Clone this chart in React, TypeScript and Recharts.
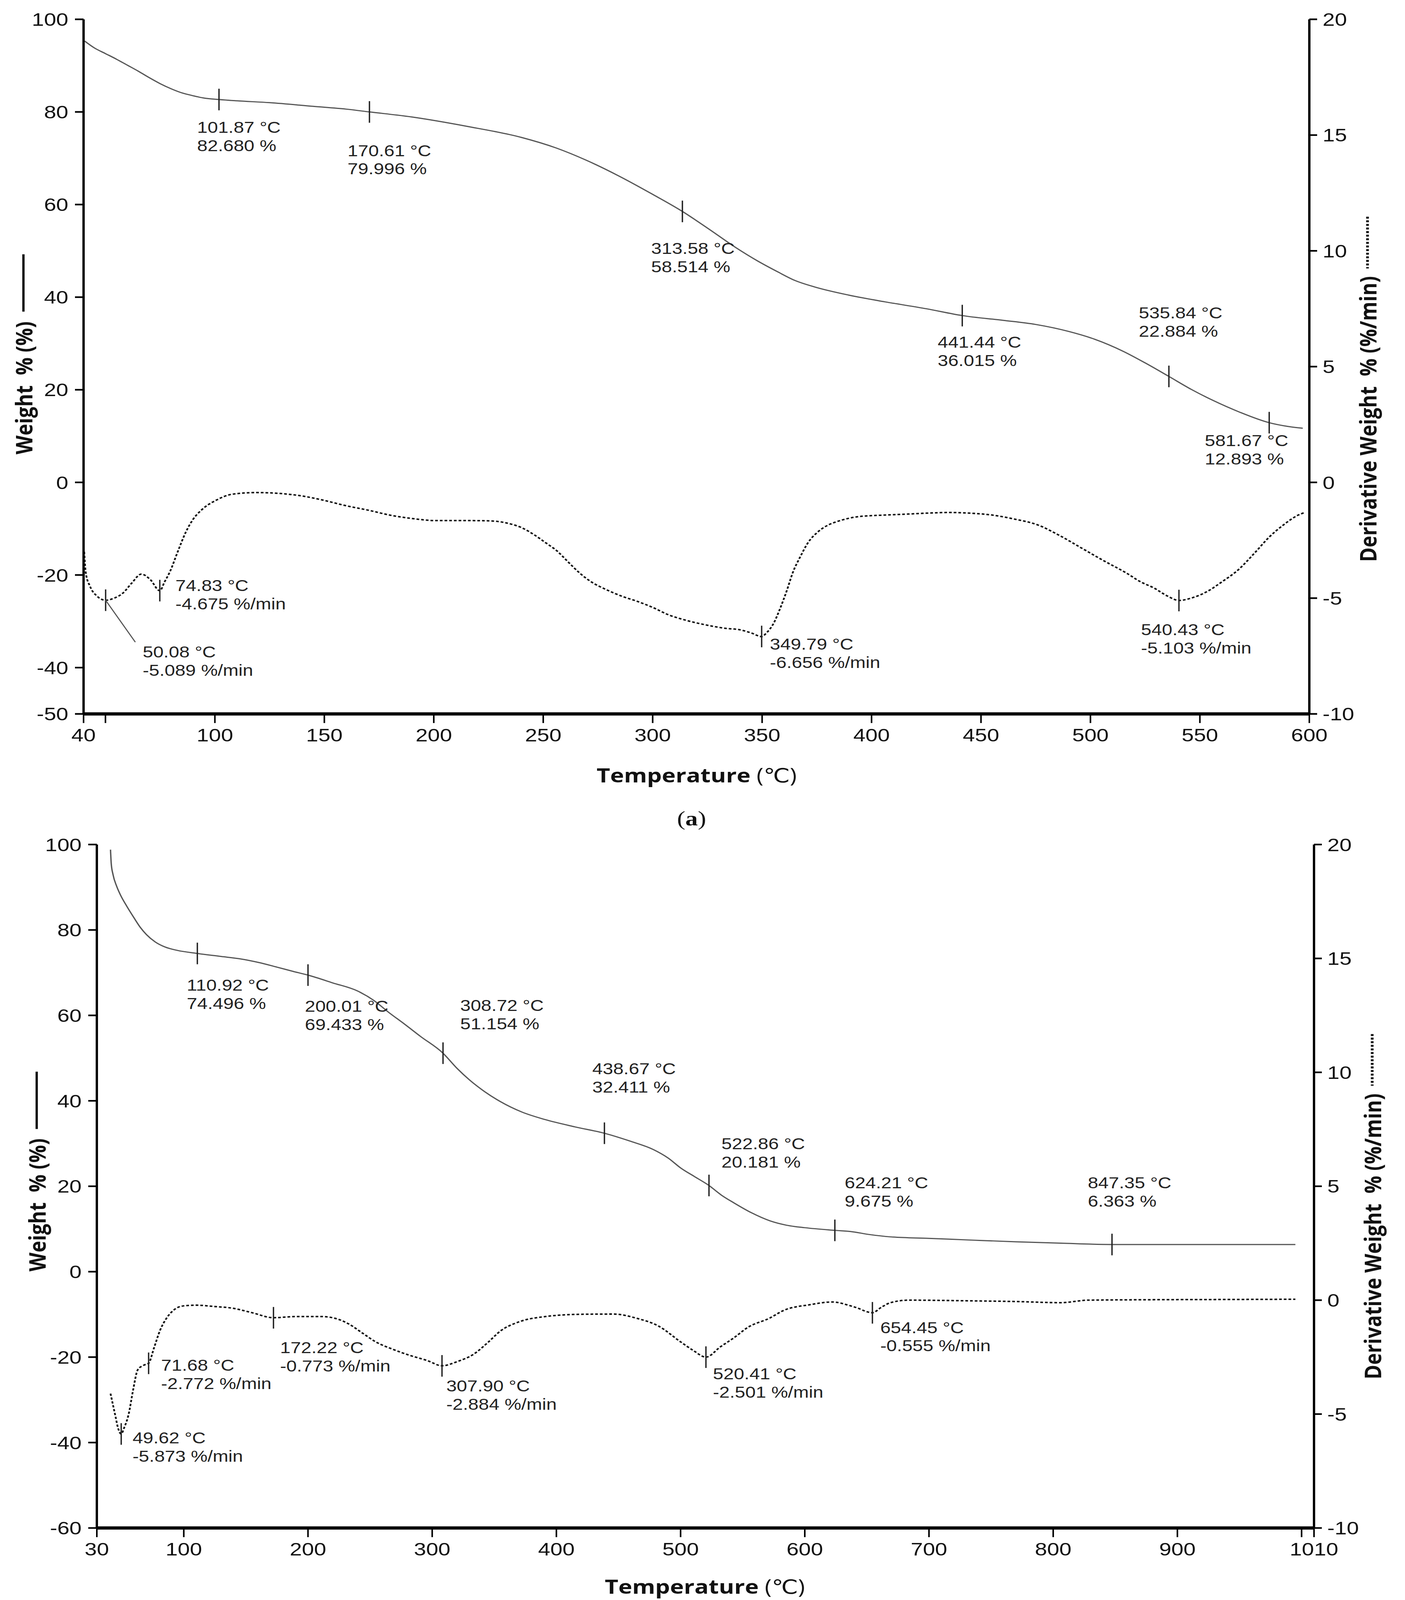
import { ComposedChart, Line, XAxis, YAxis, ReferenceDot } from 'recharts';

// ---- panel (a) ----
const tempTicksA = [40, 50, 100, 150, 200, 250, 300, 350, 400, 450, 500, 550, 600];
const weightTicksA = [-50, -40, -20, 0, 20, 40, 60, 80, 100];

// [temperature, weight %]
const tgA: [number, number][] = [
  [40.5, 95.3], [45, 93.8], [50, 92.6], [55, 91.4], [60, 90.1], [65, 88.8], [70, 87.4],
  [75, 86.1], [80, 85.0], [85, 84.1], [90, 83.5], [95, 83.0], [101.87, 82.68], [110, 82.4],
  [125, 82.0], [145, 81.2], [160, 80.6], [170.61, 80.0], [190, 78.9], [215, 76.9],
  [240, 74.5], [256, 72.2], [270, 69.5], [284, 66.3], [300, 62.2], [313.58, 58.51],
  [326, 54.6], [338, 50.7], [348, 47.8], [357, 45.5], [365, 43.6], [374, 42.2], [390, 40.4],
  [406, 39.0], [425, 37.5], [441.44, 36.02], [460, 35.0], [475, 34.1], [490, 32.6],
  [502, 30.9], [515, 28.3], [525, 25.8], [535.84, 22.88], [546, 20.1], [556, 17.7],
  [568, 15.2], [581.67, 12.89], [590, 12.1], [597, 11.7],
];

// [temperature, derivative weight %/min]
const dtgA: [number, number][] = [
  [40.3, -3.0], [41, -3.9], [43, -4.5], [46, -4.9], [50.08, -5.09], [54, -5.0], [58, -4.78],
  [62, -4.35], [66.4, -3.96], [70.5, -4.2], [74.83, -4.68], [77, -4.3], [79.5, -3.85],
  [83, -3.0], [86.8, -2.13], [90, -1.6], [93.9, -1.19], [100.8, -0.76], [108, -0.51],
  [119, -0.44], [130, -0.48], [140, -0.59], [150, -0.78], [160, -1.01], [170, -1.2],
  [180.8, -1.43], [190, -1.56], [201, -1.65], [215, -1.65], [225, -1.66], [234, -1.77],
  [240, -1.95], [246, -2.27], [251, -2.6], [256.4, -2.97], [261, -3.4], [266.7, -3.92],
  [272, -4.3], [279, -4.64], [286, -4.92], [293, -5.14], [300, -5.4], [307, -5.71],
  [315, -5.95], [324, -6.15], [333, -6.3], [340, -6.37], [345, -6.5], [349.79, -6.66],
  [352, -6.5], [355.3, -6.08], [358, -5.5], [361.4, -4.64], [364, -3.9], [367.5, -3.2],
  [371, -2.6], [375.6, -2.13], [380, -1.85], [384, -1.7], [394, -1.48], [404, -1.42],
  [414, -1.38], [425, -1.33], [435, -1.3], [445, -1.33], [455, -1.41], [465, -1.58],
  [476, -1.84], [486, -2.3], [496, -2.84], [506, -3.38], [516.5, -3.92], [523, -4.3],
  [529, -4.56], [535, -4.9], [540.43, -5.1], [546, -5.0], [553.4, -4.71], [560, -4.3],
  [567.6, -3.77], [575, -3.05], [581.8, -2.35], [588, -1.85], [595, -1.41], [598, -1.3],
];

const tgMarksA: [number, number][] = [
  [101.87, 82.68], [170.61, 79.996], [313.58, 58.514], [441.44, 36.015], [535.84, 22.884], [581.67, 12.893],
];
const dtgMarksA: [number, number][] = [
  [50.08, -5.089], [74.83, -4.675], [349.79, -6.656], [540.43, -5.103],
];

// ---- panel (b) ----
const tempTicksB = [30, 100, 200, 300, 400, 500, 600, 700, 800, 900, 1000, 1010];
const weightTicksB = [-60, -40, -20, 0, 20, 40, 60, 80, 100];

const tgB: [number, number][] = [
  [41, 98.8], [41.6, 95.5], [43, 93.0], [46, 90.2], [49, 88.2], [54, 85.6], [60, 82.8],
  [65, 80.6], [70, 78.9], [77, 77.2], [85, 76.0], [95, 75.2], [110.92, 74.5], [130, 73.8],
  [146, 73.2], [160, 72.4], [175, 71.3], [188, 70.3], [200.01, 69.43], [220, 67.6],
  [240, 65.7], [253, 63.5], [265, 60.7], [278, 57.9], [290.5, 55.1], [308.72, 51.15],
  [320, 47.6], [330, 44.9], [342, 42.2], [355, 39.8], [372, 37.4], [391, 35.6], [415, 33.9],
  [438.67, 32.41], [460, 30.5], [478, 28.6], [490, 26.6], [500, 24.3], [511, 22.3],
  [522.86, 20.18], [533, 17.9], [543, 16.1], [557, 13.8], [572, 11.9], [585, 10.9],
  [600, 10.3], [624.21, 9.68], [637, 9.4], [652, 8.7], [669, 8.15], [700, 7.8], [734, 7.4],
  [770, 7.0], [806, 6.67], [847.35, 6.36], [900, 6.35], [950, 6.35], [995, 6.35],
];

const dtgB: [number, number][] = [
  [41, -4.1], [43, -4.6], [45, -5.1], [47, -5.6], [49.62, -5.87], [52, -5.6], [55.8, -4.96],
  [59, -4.0], [63, -3.05], [68, -2.85], [71.68, -2.77], [76, -2.1], [81, -1.31], [86, -0.8],
  [92, -0.43], [100, -0.25], [110, -0.22], [125, -0.28], [139, -0.35], [155, -0.55],
  [172.22, -0.77], [190, -0.72], [211, -0.72], [225, -0.85], [233, -1.05], [244, -1.45],
  [254.5, -1.83], [268, -2.15], [283, -2.44], [296, -2.65], [307.9, -2.88], [320, -2.7],
  [333.7, -2.36], [345, -1.85], [355, -1.35], [370, -0.95], [391, -0.72], [420, -0.62],
  [446, -0.61], [465, -0.8], [482, -1.13], [500, -1.83], [510, -2.2], [520.41, -2.5],
  [532, -2.05], [543, -1.65], [554, -1.2], [572, -0.78], [583, -0.45], [604, -0.2],
  [622, -0.08], [640, -0.3], [654.45, -0.55], [662, -0.3], [669, -0.11], [684, 0.0],
  [734, -0.03], [770, -0.06], [806, -0.11], [828, 0.0], [880, 0.02], [940, 0.03], [995, 0.04],
];

const tgMarksB: [number, number][] = [
  [110.92, 74.496], [200.01, 69.433], [308.72, 51.154], [438.67, 32.411], [522.86, 20.181],
  [624.21, 9.675], [847.35, 6.363],
];
const dtgMarksB: [number, number][] = [
  [49.62, -5.873], [71.68, -2.772], [172.22, -0.773], [307.9, -2.884], [520.41, -2.501], [654.45, -0.555],
];

const derivTicks = [-10, -5, 0, 5, 10, 15, 20];

// label placement relative to each marker: [dx, dy of first line]
const tgLabelPosA = [[-56, 85], [-56, 118], [-80, 113], [-63, 81], [-77, -194], [-165, 55]];
const dtgLabelPosA = [[95, 158], [40, -15], [21, 23], [-97, 89]];
const tgLabelPosB = [[-27, 97], [-8, 95], [44, -146], [-31, -197], [32, -128], [25, -145], [-62, -188]];
const dtgLabelPosB = [[29, 12], [32, 6], [17, 91], [11, 61], [18, 51], [20, 45]];

const FONT = 'Liberation Sans, Arial, sans-serif';
const TITLE_FONT = 'Open Sans, DejaVu Sans, sans-serif';

const PAGE_W = 3598;
const PAGE_H = 4888;
// the browser may give a shorter viewport than the figure; squeeze it vertically to fit
const viewH = typeof window !== 'undefined' && window.innerHeight ? window.innerHeight : PAGE_H;
const fitY = Math.min(1, viewH / PAGE_H);

const toXY = (rows: [number, number][]) => rows.map(([x, y]) => ({ x, y }));

const Marker = ({ cx, cy, pos, lines, leader }: any) => (
  <g>
    <line x1={cx} x2={cx} y1={cy - 33} y2={cy + 33} stroke="#222" strokeWidth={3.5} />
    {leader && (
      <line x1={cx} y1={cy} x2={cx + leader[0]} y2={cy + leader[1]} stroke="#555" strokeWidth={3} />
    )}
    <text x={cx + pos[0]} y={cy + pos[1]} fontSize={48} fontFamily={FONT} fill="#222" dominantBaseline="central">
      {lines[0]}
    </text>
    <text x={cx + pos[0]} y={cy + pos[1] + 56} fontSize={48} fontFamily={FONT} fill="#222" dominantBaseline="central">
      {lines[1]}
    </text>
  </g>
);

const tickStyle = { fontSize: 56, fill: '#111', fontFamily: FONT };

const Panel = ({ top, height, margin, xDomain, xTicks, hiddenTick, wDomain, wTicks, tg, dtg, tgMarks, dtgMarks, tgPos, dtgPos, leaderIndex }: any) => (
  <div style={{ position: 'absolute', left: 0, top }}>
    <ComposedChart width={PAGE_W} height={height} margin={margin}>
      <XAxis
        dataKey="x"
        type="number"
        domain={xDomain}
        ticks={xTicks}
        interval={0}
        allowDataOverflow
        tickFormatter={(v: number) => (v === hiddenTick ? '' : String(v))}
        axisLine={{ stroke: '#000', strokeWidth: 10 }}
        tickLine={{ stroke: '#000', strokeWidth: 4 }}
        tickSize={28}
        tickMargin={16}
        tick={tickStyle}
        height={100}
      />
      <YAxis
        yAxisId="w"
        dataKey="y"
        domain={wDomain}
        ticks={wTicks}
        interval={0}
        allowDataOverflow
        width={100}
        axisLine={{ stroke: '#000', strokeWidth: 6 }}
        tickLine={{ stroke: '#000', strokeWidth: 5 }}
        tickSize={22}
        tickMargin={17}
        tick={tickStyle}
      />
      <YAxis
        yAxisId="d"
        orientation="right"
        dataKey="y"
        domain={[-10, 20]}
        ticks={derivTicks}
        interval={0}
        allowDataOverflow
        width={100}
        axisLine={{ stroke: '#000', strokeWidth: 6 }}
        tickLine={{ stroke: '#000', strokeWidth: 5 }}
        tickSize={20}
        tickMargin={14}
        tick={tickStyle}
      />
      <Line yAxisId="w" data={toXY(tg)} dataKey="y" type="monotone" stroke="#555" strokeWidth={3.5} dot={false} isAnimationActive={false} />
      <Line yAxisId="d" data={toXY(dtg)} dataKey="y" type="monotone" stroke="#111" strokeWidth={4.5} strokeDasharray="7 5" dot={false} isAnimationActive={false} />
      {tgMarks.map(([t, w]: [number, number], i: number) => (
        <ReferenceDot
          key={`tg-${i}`}
          yAxisId="w"
          x={t}
          y={w}
          ifOverflow="visible"
          shape={(p: any) => (
            <Marker cx={p.cx} cy={p.cy} pos={tgPos[i]} lines={[`${t.toFixed(2)} °C`, `${w.toFixed(3)} %`]} />
          )}
        />
      ))}
      {dtgMarks.map(([t, d]: [number, number], i: number) => (
        <ReferenceDot
          key={`dtg-${i}`}
          yAxisId="d"
          x={t}
          y={d}
          ifOverflow="visible"
          shape={(p: any) => (
            <Marker
              cx={p.cx}
              cy={p.cy}
              pos={dtgPos[i]}
              leader={i === leaderIndex ? [76, 128] : null}
              lines={[`${t.toFixed(2)} °C`, `${d.toFixed(3)} %/min`]}
            />
          )}
        />
      ))}
    </ComposedChart>
  </div>
);

const Titles = () => (
  <svg width={PAGE_W} height={PAGE_H} style={{ position: 'absolute', left: 0, top: 0, pointerEvents: 'none' }}>
    {/* panel (a) */}
    <text transform="translate(60,1185) rotate(-90)" textAnchor="middle" dominantBaseline="central" fontFamily={TITLE_FONT} fontWeight={700} fontSize={60} fill="#111">
      {'Weight\u00a0\u00a0% (%)'}
    </text>
    <line x1={60} x2={60} y1={777} y2={952} stroke="#111" strokeWidth={6} />
    <text transform="translate(3502,1280) rotate(-90)" textAnchor="middle" dominantBaseline="central" fontFamily={TITLE_FONT} fontWeight={700} fontSize={60} fill="#111">
      {'Derivative Weight\u00a0\u00a0% (%/min)'}
    </text>
    <line x1={3502} x2={3502} y1={662} y2={820} stroke="#111" strokeWidth={7} strokeDasharray="6 5" />
    <text x={1784} y={2367} textAnchor="middle" dominantBaseline="central" fontFamily={TITLE_FONT} fontSize={60} fill="#111">
      <tspan fontWeight={700}>Temperature</tspan>
      <tspan> (℃)</tspan>
    </text>
    <text x={1771} y={2500} textAnchor="middle" dominantBaseline="central" fontFamily="Liberation Serif, serif" fontSize={64} fill="#111">
      (<tspan fontWeight={700}>a</tspan>)
    </text>
    {/* panel (b) */}
    <text transform="translate(94,3681) rotate(-90)" textAnchor="middle" dominantBaseline="central" fontFamily={TITLE_FONT} fontWeight={700} fontSize={60} fill="#111">
      {'Weight\u00a0\u00a0% (%)'}
    </text>
    <line x1={94} x2={94} y1={3274} y2={3449} stroke="#111" strokeWidth={6} />
    <text transform="translate(3514,3777) rotate(-90)" textAnchor="middle" dominantBaseline="central" fontFamily={TITLE_FONT} fontWeight={700} fontSize={60} fill="#111">
      {'Derivative Weight\u00a0\u00a0% (%/min)'}
    </text>
    <line x1={3514} x2={3514} y1={3159} y2={3317} stroke="#111" strokeWidth={7} strokeDasharray="6 5" />
    <text x={1805} y={4845} textAnchor="middle" dominantBaseline="central" fontFamily={TITLE_FONT} fontSize={60} fill="#111">
      <tspan fontWeight={700}>Temperature</tspan>
      <tspan> (℃)</tspan>
    </text>
  </svg>
);

const App = () => (
  <div style={{ position: 'relative', width: PAGE_W, height: Math.floor(PAGE_H * fitY), overflow: 'hidden', background: '#fff' }}>
    <style>{'body{margin:0;overflow:hidden}'}</style>
    <div
      style={{
        position: 'absolute',
        left: 0,
        top: 0,
        width: PAGE_W,
        height: PAGE_H,
        transform: `scale(1, ${fitY})`,
        transformOrigin: '0 0',
      }}
    >
      <Panel
        top={0}
        height={2300}
        margin={{ top: 59, right: 145, bottom: 19, left: 114 }}
        xDomain={[40, 600]}
        xTicks={tempTicksA}
        hiddenTick={50}
        wDomain={[-50, 100]}
        wTicks={weightTicksA}
        tg={tgA}
        dtg={dtgA}
        tgMarks={tgMarksA}
        dtgMarks={dtgMarksA}
        tgPos={tgLabelPosA}
        dtgPos={dtgLabelPosA}
        leaderIndex={0}
      />
      <Panel
        top={2450}
        height={2438}
        margin={{ top: 130, right: 133, bottom: 120, left: 148 }}
        xDomain={[30, 1010]}
        xTicks={tempTicksB}
        hiddenTick={1000}
        wDomain={[-60, 100]}
        wTicks={weightTicksB}
        tg={tgB}
        dtg={dtgB}
        tgMarks={tgMarksB}
        dtgMarks={dtgMarksB}
        tgPos={tgLabelPosB}
        dtgPos={dtgLabelPosB}
        leaderIndex={-1}
      />
      <Titles />
    </div>
  </div>
);

export default App;
